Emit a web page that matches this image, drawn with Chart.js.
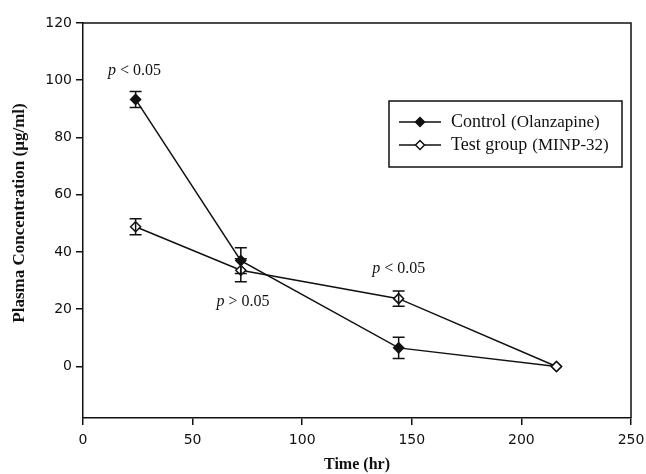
<!DOCTYPE html>
<html>
<head>
<meta charset="utf-8">
<script src="https://cdn.jsdelivr.net/npm/chart.js@4.4.0/dist/chart.umd.min.js"></script>
<style>
  html, body { margin: 0; padding: 0; background: #fff; }
</style>
</head>
<body>
<canvas id="pkChart" width="646" height="474"></canvas>
<script>
// sampling times and mean concentrations
const timesHr = [24, 72, 144, 216];
const controlConc = [93.3, 37, 6.5, 0];
const controlErr = [2.8, 4.5, 3.7, 0];
const testConc = [48.8, 33.6, 23.7, 0];
const testErr = [2.8, 4, 2.7, 0];

const xTicks = [0, 50, 100, 150, 200, 250];
const yTicks = [0, 20, 40, 60, 80, 100, 120];

// significance notes, anchored in data units
const noteX = [23.5, 73, 144];
const noteY = [103.3, 22.6, 34.3];
const noteOp = ["<", ">", "<"];

const serif = "'Liberation Serif', 'Times New Roman', serif";
const sans = "'DejaVu Sans', sans-serif";

const toPoints = (ys) => timesHr.map((t, i) => ({ x: t, y: ys[i] }));

// vertical error bars with caps
const errorBars = {
  id: "errorBars",
  afterDatasetsDraw(chart) {
    const { ctx, scales: { x, y } } = chart;
    const sets = [[controlConc, controlErr], [testConc, testErr]];
    ctx.save();
    ctx.strokeStyle = "#111";
    ctx.lineWidth = 1.5;
    sets.forEach(([vals, errs]) => {
      vals.forEach((v, i) => {
        if (!errs[i]) return;
        const px = x.getPixelForValue(timesHr[i]);
        const top = y.getPixelForValue(v + errs[i]);
        const bot = y.getPixelForValue(v - errs[i]);
        ctx.beginPath();
        ctx.moveTo(px, top); ctx.lineTo(px, bot);
        ctx.moveTo(px - 6, top); ctx.lineTo(px + 6, top);
        ctx.moveTo(px - 6, bot); ctx.lineTo(px + 6, bot);
        ctx.stroke();
      });
    });
    ctx.restore();
  }
};

// frame, p-value notes, y title and the legend box
const extras = {
  id: "extras",
  afterDraw(chart) {
    const { ctx, chartArea: a, scales: { x, y } } = chart;
    ctx.save();
    ctx.strokeStyle = "#111";
    ctx.lineWidth = 1.5;
    ctx.beginPath();
    ctx.moveTo(a.left, a.top); ctx.lineTo(a.right, a.top); ctx.lineTo(a.right, a.bottom);
    ctx.stroke();

    ctx.fillStyle = "#111";
    ctx.textBaseline = "middle";
    noteX.forEach((nx, i) => {
      const px = x.getPixelForValue(nx);
      const py = y.getPixelForValue(noteY[i]);
      const rest = " " + noteOp[i] + " 0.05";
      ctx.font = "italic 16px " + serif;
      const w1 = ctx.measureText("p").width;
      ctx.font = "16px " + serif;
      const w2 = ctx.measureText(rest).width;
      const sx = px - (w1 + w2) / 2;
      ctx.font = "italic 16px " + serif;
      ctx.fillText("p", sx, py);
      ctx.font = "16px " + serif;
      ctx.fillText(rest, sx + w1, py);
    });

    // y axis title
    ctx.save();
    ctx.translate(20, 213);
    ctx.rotate(-Math.PI / 2);
    ctx.textAlign = "center";
    ctx.font = "bold 17px " + serif;
    ctx.fillText("Plasma Concentration (µg/ml)", 0, 0);
    ctx.restore();

    // legend
    const bx = 389, by = 101, bw = 233, bh = 66;
    ctx.lineWidth = 1.5;
    ctx.strokeRect(bx, by, bw, bh);
    const rows = [
      { y: 122, big: "Control", small: "(Olanzapine)", fill: "#111" },
      { y: 145, big: "Test group", small: "(MINP-32)", fill: "#fff" }
    ];
    rows.forEach((r) => {
      ctx.beginPath();
      ctx.moveTo(399, r.y); ctx.lineTo(441, r.y);
      ctx.stroke();
      ctx.beginPath();
      ctx.moveTo(420, r.y - 4.5); ctx.lineTo(424.5, r.y); ctx.lineTo(420, r.y + 4.5); ctx.lineTo(415.5, r.y);
      ctx.closePath();
      ctx.fillStyle = r.fill;
      ctx.fill();
      ctx.stroke();
      ctx.fillStyle = "#111";
      ctx.font = "18px " + serif;
      ctx.fillText(r.big, 451, r.y);
      const w = ctx.measureText(r.big).width;
      ctx.font = "17px " + serif;
      ctx.fillText(r.small, 451 + w + 5, r.y + 1);
    });
    ctx.restore();
  }
};

new Chart(document.getElementById("pkChart"), {
  type: "line",
  data: {
    datasets: [
      {
        label: "Control (Olanzapine)",
        data: toPoints(controlConc),
        order: 1,
        borderColor: "#111",
        borderWidth: 1.5,
        pointStyle: "rectRot",
        pointRadius: 5,
        pointBackgroundColor: "#111",
        pointBorderColor: "#111",
        pointBorderWidth: 1.5,
        tension: 0
      },
      {
        label: "Test group (MINP-32)",
        data: toPoints(testConc),
        order: 0,
        borderColor: "#111",
        borderWidth: 1.5,
        pointStyle: "rectRot",
        pointRadius: 5,
        pointBackgroundColor: "#fff",
        pointBorderColor: "#111",
        pointBorderWidth: 1.5,
        tension: 0
      }
    ]
  },
  options: {
    responsive: false,
    animation: false,
    devicePixelRatio: 1,
    layout: { padding: { top: 23, right: 15, left: 0, bottom: 0 } },
    plugins: {
      legend: { display: false },
      tooltip: { enabled: false }
    },
    scales: {
      x: {
        type: "linear",
        min: 0,
        max: 250,
        afterBuildTicks: (s) => { s.ticks = xTicks.map((v) => ({ value: v })); },
        afterFit: (s) => { s.height = 56; s.paddingLeft = 0; s.paddingRight = 0; },
        grid: { drawOnChartArea: false, drawTicks: true, tickLength: 7, color: "#111", lineWidth: 1.5 },
        border: { display: true, color: "#111", width: 1.5 },
        ticks: { color: "#111", font: { family: sans, size: 14 }, padding: 7, maxRotation: 0 },
        title: {
          display: true,
          text: "Time (hr)",
          color: "#111",
          font: { family: serif, size: 16, weight: "bold" },
          padding: { top: 0, bottom: 0 }
        }
      },
      y: {
        min: -18,
        max: 120,
        afterBuildTicks: (s) => { s.ticks = yTicks.map((v) => ({ value: v })); },
        afterFit: (s) => { s.width = 83; s.paddingTop = 0; s.paddingBottom = 0; },
        grid: { drawOnChartArea: false, drawTicks: true, tickLength: 7, color: "#111", lineWidth: 1.5 },
        border: { display: true, color: "#111", width: 1.5 },
        ticks: { color: "#111", font: { family: sans, size: 14 }, padding: 4 }
      }
    }
  },
  plugins: [errorBars, extras]
});
</script>
</body>
</html>
